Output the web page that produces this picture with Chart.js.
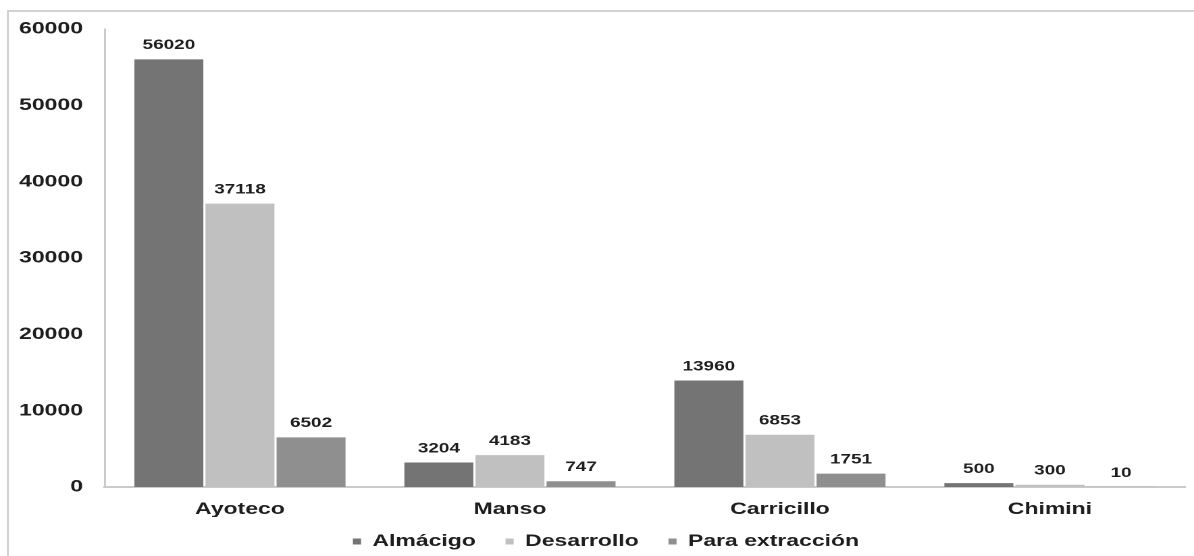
<!DOCTYPE html>
<html lang="es">
<head>
<meta charset="utf-8">
<title>Plantas por localidad</title>
<script src="https://cdn.jsdelivr.net/npm/chart.js@4.4.1/dist/chart.umd.min.js"></script>
<style>
  html, body { margin: 0; padding: 0; background: #ffffff; overflow: hidden; width: 1194px; height: 556px; }
  #frame {
    position: absolute; left: 7px; top: 10px; width: 1300px; height: 700px;
    border-top: 2px solid #d2d2d2; border-left: 2px solid #d2d2d2;
  }
  /* the drawing is laid out on a narrower canvas and widened to the page */
  #stretch {
    position: absolute; left: 0; top: 0;
    transform: scaleX(1.350679); transform-origin: 0 0;
  }
</style>
</head>
<body>
<div id="frame"></div>
<div id="stretch"><canvas id="chart" width="884" height="566"></canvas></div>
<script>
const categories = ['Ayoteco', 'Manso', 'Carricillo', 'Chimini'];
const almacigo   = [56020, 3204, 13960, 500];
const desarrollo = [37118, 4183, 6853, 300];
const extraccion = [6502, 747, 1751, 10];
const yTickValues = [0, 10000, 20000, 30000, 40000, 50000, 60000];

const seriesNames  = ['Almácigo', 'Desarrollo', 'Para extracción'];
const seriesColors = ['#747474', '#c0c0c0', '#8f8f8f'];
const textColor = '#1e1e1e';
const fontFamily = "'Liberation Sans', Arial, Helvetica, sans-serif";

// writes each bar's value just above it
const valueLabels = {
  id: 'valueLabels',
  afterDatasetsDraw(chart) {
    const ctx = chart.ctx;
    ctx.save();
    ctx.font = 'bold 14px ' + fontFamily;
    ctx.fillStyle = textColor;
    ctx.textAlign = 'center';
    ctx.textBaseline = 'middle';
    chart.data.datasets.forEach((ds, i) => {
      chart.getDatasetMeta(i).data.forEach((bar, j) => {
        ctx.fillText(String(ds.data[j]), bar.x, bar.y - 14);
      });
    });
    ctx.restore();
  }
};

// moves the legend row a little right of centre and closer to the axis labels
const legendOffset = {
  id: 'legendOffset',
  afterLayout(chart) {
    const lg = chart.legend;
    if (lg) {
      lg.left += 10;
      lg.right += 10;
      lg.top -= 6;
      lg.bottom -= 6;
    }
  }
};

new Chart(document.getElementById('chart'), {
  type: 'bar',
  data: {
    labels: categories,
    datasets: [almacigo, desarrollo, extraccion].map((values, i) => ({
      label: seriesNames[i],
      data: values,
      backgroundColor: seriesColors[i],
      borderWidth: 0,
      categoryPercentage: 0.79,
      barPercentage: 0.97
    }))
  },
  options: {
    responsive: false,
    devicePixelRatio: 2,
    animation: false,
    events: [],
    layout: { padding: { top: 29, left: 0, right: 6.7, bottom: 0 } },
    plugins: {
      tooltip: { enabled: false },
      title: { display: false },
      legend: {
        display: true,
        position: 'bottom',
        labels: {
          boxWidth: 6,
          boxHeight: 6,
          padding: 22,
          color: textColor,
          font: { family: fontFamily, size: 17, weight: 'bold' }
        }
      }
    },
    scales: {
      x: {
        grid: { display: false, drawTicks: false },
        border: { display: true, color: '#cbcbcb', width: 2 },
        ticks: {
          padding: 12,
          color: textColor,
          font: { family: fontFamily, size: 17, weight: 'bold' }
        },
        afterFit(scale) { scale.height = 30; }
      },
      y: {
        min: 0,
        max: 60000,
        grid: { display: false, drawTicks: false },
        border: { display: true, color: '#cbcbcb', width: 1.5 },
        afterBuildTicks(scale) { scale.ticks = yTickValues.map(v => ({ value: v })); },
        ticks: {
          padding: 16.3,
          color: textColor,
          font: { family: fontFamily, size: 17, weight: 'bold' },
          callback: v => String(v)
        },
        afterFit(scale) { scale.width = 77.7; }
      }
    }
  },
  plugins: [valueLabels, legendOffset]
});
</script>
</body>
</html>
